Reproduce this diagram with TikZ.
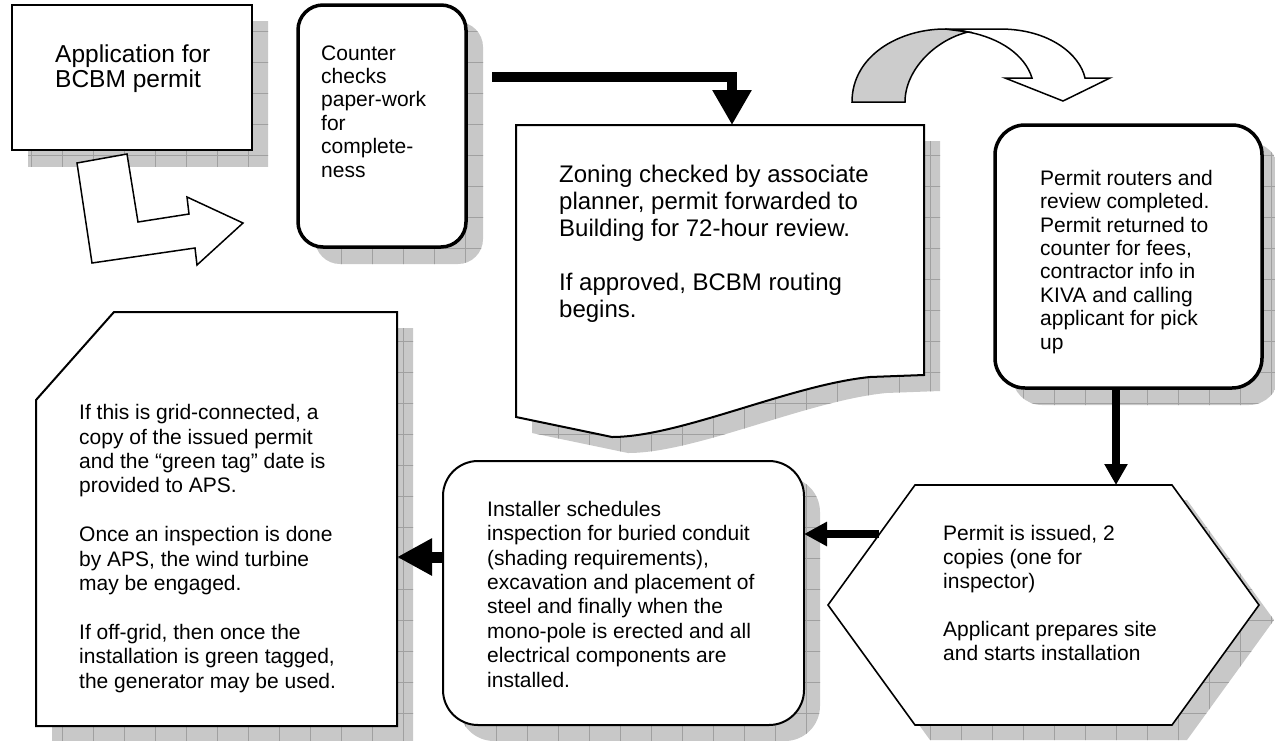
\documentclass[tikz,border=0pt]{standalone}
\usepackage{fontspec}
\setmainfont{Liberation Sans}
\usetikzlibrary{arrows.meta,calc}
\definecolor{shadowgray}{RGB}{200,200,200}
\definecolor{gridgray}{RGB}{160,160,160}
\definecolor{bandgray}{RGB}{204,204,204}
\newcommand\gridshadow[1]{%
  \begin{scope}
    \clip #1;
    \fill[shadowgray] (0,0) rectangle (1290,760);
    \draw[gridgray, line width=0.8pt, step=31pt] (0,0) grid (1290,760);
  \end{scope}}
\tikzset{
  shp/.style={draw=black, fill=white, inner sep=0pt, outer sep=0pt, line width=2pt},
  ghost/.style={inner sep=0pt, outer sep=0pt},
  txt/.style={anchor=base west, inner sep=0pt, align=left},
  fa/.style={font=\fontsize{21}{23.4}\selectfont},
  fb/.style={font=\fontsize{21}{24.4}\selectfont},
  fc/.style={font=\fontsize{24}{27}\selectfont},
}
\begin{document}
\begin{tikzpicture}[x=1pt, y=-1pt, line join=miter]
\useasboundingbox (0,0) rectangle (1275,740);
\fill[white] (0,0) rectangle (1275,740);

% ---------- shadows ----------
\gridshadow{(28,21) rectangle (268,166)}
\gridshadow{[rounded corners=25pt] (315,22) rectangle (483,264)}
\gridshadow{[shift={(16,16)}] (516,125) -- (924,125) -- (924,375) -- (870,377) .. controls (790,385) and (680,437) .. (612,437) -- (516,417) -- cycle}
\gridshadow{[rounded corners=30pt] (1012,142) rectangle (1279,405)}
\gridshadow{[shift={(15,15)}] (828,605) -- (915,485) -- (1172,485) -- (1259,605) -- (1172,725) -- (915,725) -- cycle}
\gridshadow{[rounded corners=35pt] (459,477) rectangle (820,741)}
\gridshadow{[shift={(16,16)}] (36,400) -- (114,312) -- (397,312) -- (397,726) -- (36,726) -- cycle}

% ---------- shapes ----------
\node[shp, minimum width=240pt, minimum height=145pt] (A) at (132,77.5) {};
\node[shp, line width=3.5pt, rounded corners=25pt, minimum width=168pt, minimum height=242pt] (B) at (382,126) {};
\node[ghost, minimum width=408pt, minimum height=312pt] (C) at (720,281) {};
\draw[shp] (516,125) -- (924,125) -- (924,375) -- (870,377) .. controls (790,385) and (680,437) .. (612,437) -- (516,417) -- cycle;
\node[shp, line width=3.5pt, rounded corners=30pt, minimum width=267pt, minimum height=263pt] (D) at (1128.5,256.5) {};
\node[ghost, minimum width=431pt, minimum height=240pt] (E) at (1043.5,605) {};
\draw[shp, line width=1.6pt] (828,605) -- (915,485) -- (1172,485) -- (1259,605) -- (1172,725) -- (915,725) -- cycle;
\node[shp, rounded corners=35pt, minimum width=361pt, minimum height=264pt] (F) at (623.5,593) {};
\node[ghost, minimum width=361pt, minimum height=414pt] (G) at (216.5,519) {};
\draw[shp] (36,400) -- (114,312) -- (397,312) -- (397,726) -- (36,726) -- cycle;

% ---------- decorative block arrows ----------
\draw[fill=white, line width=1.5pt] (77,163) -- (127,154) -- (138,222) -- (189,214) -- (187,197) -- (243,223) -- (197,265) -- (195,248) -- (92,263) -- cycle;
\draw[fill=white, line width=1.5pt] (945,29) -- (1000,29) .. controls (1050,29) and (1080,55) .. (1085,78) -- (1110,78) -- (1063,101) -- (1005,78) -- (1032,78) .. controls (1025,55) and (1000,38) .. (968,32) .. controls (960,30) and (952,29) .. (945,29) -- cycle;
\draw[fill=bandgray, line width=1.5pt] (852,102) .. controls (852,55) and (900,29) .. (945,29) -- (968,32) .. controls (935,40) and (905,70) .. (905,102) -- cycle;

% ---------- connectors ----------
\coordinate (bc) at (492,77);
\draw[line width=10pt, -{Triangle[width=37pt,length=35pt]}] (bc) -| ([xshift=12pt]C.north);
\draw[line width=8pt, -{Triangle[width=22pt,length=21pt]}] ([xshift=-12.5pt]D.south) -- ([xshift=-12.5pt]D.south |- E.north);
\coordinate (ef) at (879,534);
\draw[line width=7.5pt, -{Triangle[width=23pt,length=23pt]}] (ef) -- (ef -| F.east);
\coordinate (fg) at (443,557);
\draw[line width=11pt, -{Triangle[width=35pt,length=35pt]}] (fg) -- (fg -| G.east);

% ---------- texts (anchored at the baseline of the last line) ----------
\node[txt, font=\fontsize{24.5}{24.5}\selectfont] (tA) at (55,87) {Application for\\BCBM permit};
\node[txt, fa] (tB) at (321,177) {Counter\\checks\\paper-work\\for\\complete-\\ness};
\node[txt, fc] (tC) at (559,317) {Zoning checked by associate\\planner, permit forwarded to\\Building for 72-hour review.\\[27pt]If approved, BCBM routing\\begins.};
\node[txt, fa] (tD) at (1040,349) {Permit routers and\\review completed.\\Permit returned to\\counter for fees,\\contractor info in\\KIVA and calling\\applicant for pick\\up};
\node[txt, font=\fontsize{21}{24}\selectfont] (tE) at (943,660) {Permit is issued, 2\\copies (one for\\inspector)\\[24pt]Applicant prepares site\\and starts installation};
\node[txt, fb] (tF) at (487,687) {Installer schedules\\inspection for buried conduit\\(shading requirements),\\excavation and placement of\\steel and finally when the\\mono-pole is erected and all\\electrical components are\\installed.};
\node[txt, fb] (tG) at (79,688) {If this is grid-connected, a\\copy of the issued permit\\and the “green tag” date is\\provided to APS.\\[24.4pt]Once an inspection is done\\by APS, the wind turbine\\may be engaged.\\[24.4pt]If off-grid, then once the\\installation is green tagged,\\the generator may be used.};
\end{tikzpicture}
\end{document}
